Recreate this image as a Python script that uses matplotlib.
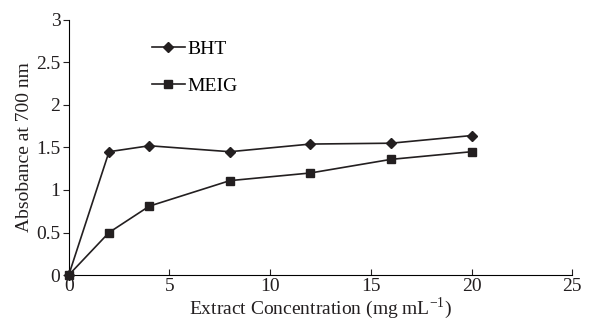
import matplotlib.pyplot as plt

plt.rcParams["font.family"] = ["Liberation Serif", "DejaVu Serif"]
plt.rcParams["mathtext.fontset"] = "custom"
plt.rcParams["mathtext.rm"] = "Liberation Serif"

conc = [0, 2, 4, 8, 12, 16, 20]
bht = [0, 1.45, 1.52, 1.45, 1.54, 1.55, 1.64]
meig = [0, 0.50, 0.81, 1.11, 1.20, 1.36, 1.45]

fig = plt.figure(figsize=(6.03, 3.31), dpi=100)
ax = fig.add_axes([0.114, 0.169, 0.835, 0.771])

ax.plot(conc, bht, color="#231f20", lw=1.2, marker="D", ms=5.5, label="BHT", clip_on=False, zorder=3)
ax.plot(conc, meig, color="#231f20", lw=1.2, marker="s", ms=6, label="MEIG", clip_on=False, zorder=3)

ax.set_xlim(0, 25)
ax.set_ylim(0, 3)
ax.set_xticks([0, 5, 10, 15, 20, 25])
ax.set_yticks([0, 0.5, 1, 1.5, 2, 2.5, 3])
ax.set_yticklabels(["0", "0.5", "1", "1.5", "2", "2.5", "3"])
ax.spines["top"].set_visible(False)
ax.spines["right"].set_visible(False)
ax.tick_params(axis="x", direction="in", length=4, labelsize=14, colors="#231f20", pad=2)
ax.tick_params(axis="y", direction="out", length=4, labelsize=14, colors="#231f20", pad=2)
ax.set_xlabel("Extract Concentration (mg mL$^{\\mathrm{-1}}$)", fontsize=14, labelpad=0, color="#231f20")
ax.set_ylabel("Absobance at 700 nm", fontsize=14, labelpad=2, color="#231f20")

ax.legend(loc="upper left", bbox_to_anchor=(0.13, 0.99), frameon=False,
          fontsize=14, handlelength=1.7, handletextpad=0.15, labelspacing=1.0)

fig.savefig("out.png", dpi=100)
